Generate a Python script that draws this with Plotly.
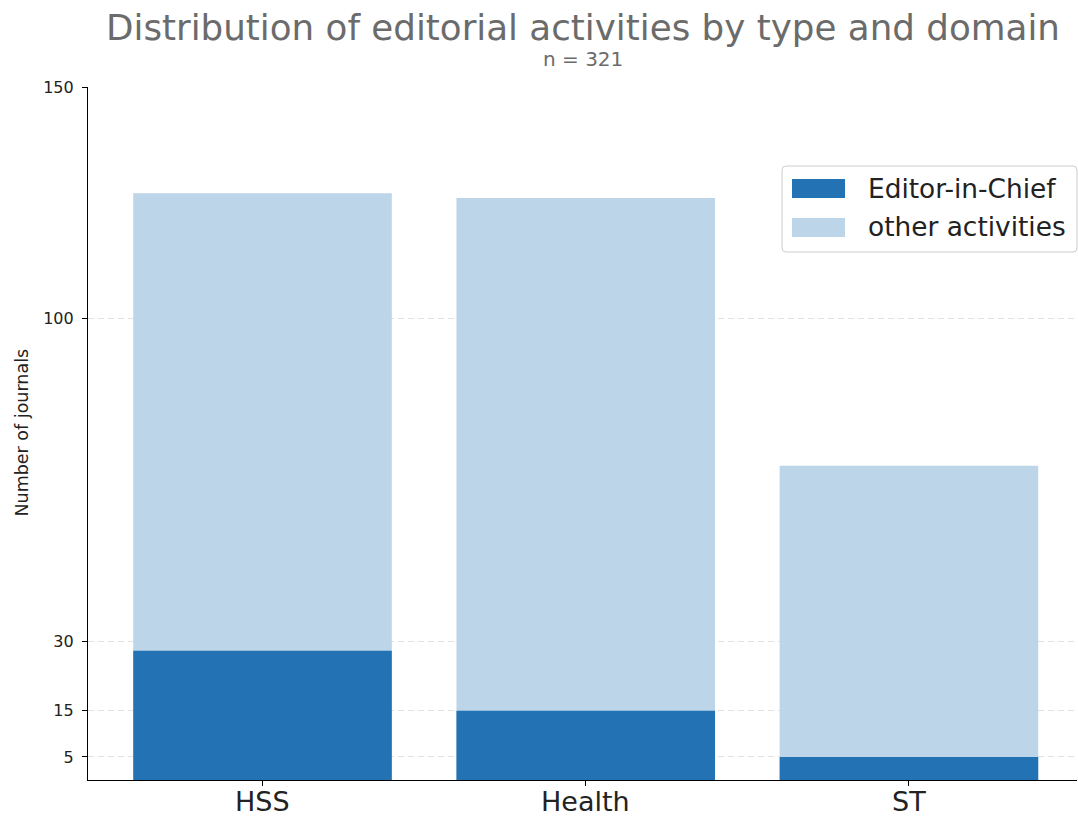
import plotly.graph_objects as go

categories = ["HSS", "Health", "ST"]
editor_in_chief = [28, 15, 5]
total_activities = [127, 126, 68]
y_ticks = [5, 15, 30, 100, 150]
legend_labels = ["Editor-in-Chief", "other activities"]

DARK = "#2272b4"
LIGHT = "#bcd5e8"
FONT = "DejaVu Sans"
TXT = "#222222"

W, H = 1078, 817
ML, MR, MT, MB = 88, 1, 87, 37
PX0, PX1 = ML, W - MR
PY0, PY1 = MT, H - MB


def px(x):
    return (x - PX0) / (PX1 - PX0)


def py(y):
    return (PY1 - y) / (PY1 - PY0)


fig = go.Figure()
fig.add_trace(go.Bar(
    x=categories, y=total_activities, name=legend_labels[1],
    marker=dict(color=LIGHT, line=dict(width=0)), width=0.8, showlegend=False,
))
fig.add_trace(go.Bar(
    x=categories, y=editor_in_chief, name=legend_labels[0],
    marker=dict(color=DARK, line=dict(width=0)), width=0.8, showlegend=False,
))

# Manual legend (matplotlib style)
x0, x1, y0, y1 = px(782), px(1077), py(252), py(166)
rx, ry = 4 / (PX1 - PX0), 4 / (PY1 - PY0)
path = (f"M {x0+rx},{y0} L {x1-rx},{y0} Q {x1},{y0} {x1},{y0+ry} "
        f"L {x1},{y1-ry} Q {x1},{y1} {x1-rx},{y1} L {x0+rx},{y1} "
        f"Q {x0},{y1} {x0},{y1-ry} L {x0},{y0+ry} Q {x0},{y0} {x0+rx},{y0} Z")
shapes = [
    dict(type="path", path=path, xref="paper", yref="paper",
         fillcolor="rgba(255,255,255,0.85)", line=dict(color="#cccccc", width=1), layer="above"),
    dict(type="rect", xref="paper", yref="paper", x0=px(792), x1=px(845), y0=py(198), y1=py(179),
         fillcolor=DARK, line=dict(width=0), layer="above"),
    dict(type="rect", xref="paper", yref="paper", x0=px(792), x1=px(845), y0=py(237), y1=py(218),
         fillcolor=LIGHT, line=dict(width=0), layer="above"),
]

annotations = [
    dict(text="Distribution of editorial activities by type and domain",
         xref="paper", yref="paper", x=0.5, y=py(28), xanchor="center", yanchor="middle",
         showarrow=False, font=dict(size=35.7, color="#6b6b6b", family=FONT)),
    dict(text="n = 321",
         xref="paper", yref="paper", x=0.5, y=py(59), xanchor="center", yanchor="middle",
         showarrow=False, font=dict(size=20, color="#6b6b6b", family=FONT)),
    dict(text="Number of journals", textangle=-90,
         xref="paper", yref="paper", x=px(21.5), y=py(433), xanchor="center", yanchor="middle",
         showarrow=False, font=dict(size=17.5, color=TXT, family=FONT)),
    dict(text=legend_labels[0], xref="paper", yref="paper", x=px(866), y=py(188),
         xanchor="left", yanchor="middle", showarrow=False,
         font=dict(size=26.4, color=TXT, family=FONT)),
    dict(text=legend_labels[1], xref="paper", yref="paper", x=px(866), y=py(227),
         xanchor="left", yanchor="middle", showarrow=False,
         font=dict(size=26.4, color=TXT, family=FONT)),
]
# x tick labels, placed through the category axis
for c in categories:
    annotations.append(dict(text=c, xref="x", yref="paper", x=c, y=py(802),
                            xanchor="center", yanchor="middle", showarrow=False,
                            font=dict(size=27, color=TXT, family=FONT)))

fig.update_layout(
    width=W, height=H,
    barmode="overlay",
    plot_bgcolor="white", paper_bgcolor="white",
    font=dict(family=FONT, color=TXT),
    margin=dict(l=ML, r=MR, t=MT, b=MB, autoexpand=False),
    showlegend=False,
    xaxis=dict(
        type="category", range=[-0.54, 2.52],
        showline=True, linecolor="black", linewidth=1.2,
        ticks="outside", ticklen=5, tickcolor="black",
        showticklabels=False,
        showgrid=False, zeroline=False, automargin=False,
    ),
    yaxis=dict(
        range=[0, 150], tickvals=y_ticks,
        showline=True, linecolor="black", linewidth=1.2,
        ticks="outside", ticklen=5, tickcolor="black",
        tickfont=dict(size=16, color=TXT), ticklabelstandoff=5,
        showgrid=True, gridcolor="rgba(170,170,170,0.35)", griddash="6px,4px", gridwidth=1,
        zeroline=False, automargin=False, layer="above traces",
    ),
    shapes=shapes,
    annotations=annotations,
)

fig.write_html("out.html", config={"displayModeBar": False},
               post_script="document.body.style.margin='0';")
